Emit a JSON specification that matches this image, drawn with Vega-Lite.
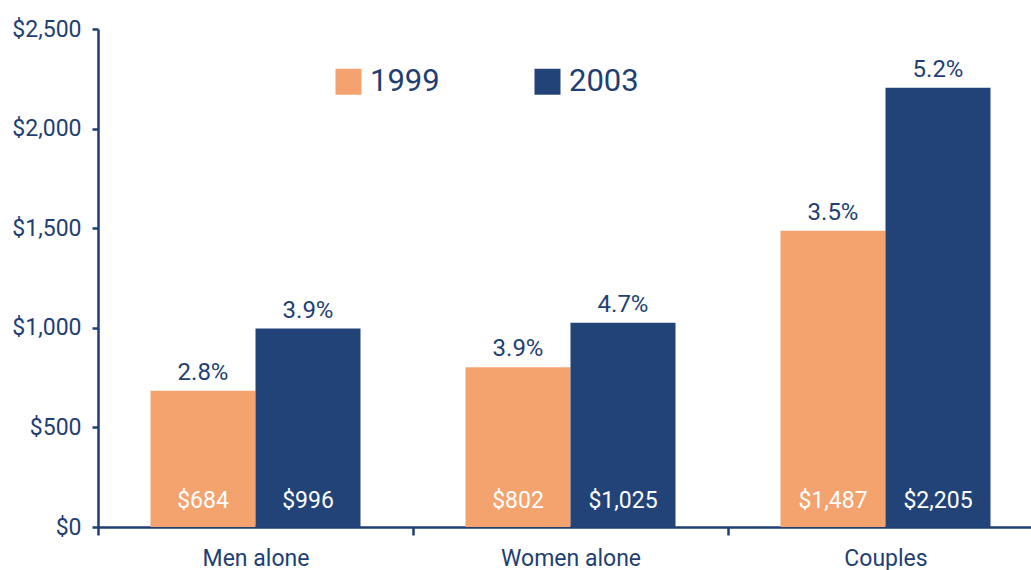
{
  "$schema": "https://vega.github.io/schema/vega-lite/v6.json",
  "width": 933,
  "height": 498,
  "autosize": {"type": "none"},
  "padding": {"left": 98, "top": 29, "right": 0, "bottom": 43},
  "background": "white",
  "config": {
    "view": {"stroke": null},
    "font": "Roboto",
    "axis": {"labelFont": "Roboto", "labelColor": "#1F3F73", "domainColor": "#1F3F73", "tickColor": "#1F3F73", "grid": false, "title": null},
    "legend": {"labelFont": "Roboto"}
  },
  "data": {"values": [
    {"group": "Men alone", "year": "1999", "value": 684, "pct": "2.8%"},
    {"group": "Men alone", "year": "2003", "value": 996, "pct": "3.9%"},
    {"group": "Women alone", "year": "1999", "value": 802, "pct": "3.9%"},
    {"group": "Women alone", "year": "2003", "value": 1025, "pct": "4.7%"},
    {"group": "Couples", "year": "1999", "value": 1487, "pct": "3.5%"},
    {"group": "Couples", "year": "2003", "value": 2205, "pct": "5.2%"}
  ]},
  "encoding": {
    "x": {"field": "group", "type": "nominal", "sort": ["Men alone", "Women alone", "Couples"],
      "scale": {"paddingInner": 0, "paddingOuter": 0, "range": [0, 945]},
      "axis": {"labelAngle": 0, "labelFontSize": 23, "domainWidth": 2.5, "tickWidth": 2.5, "tickSize": 8, "tickBand": "extent", "labelPadding": 12}},
    "xOffset": {"field": "year", "type": "nominal", "scale": {"paddingInner": 0, "paddingOuter": 0.5}}
  },
  "layer": [
    {
      "mark": {"type": "bar"},
      "encoding": {
        "y": {"field": "value", "type": "quantitative", "scale": {"domain": [0, 2500], "nice": false},
          "axis": {"values": [0, 500, 1000, 1500, 2000, 2500], "format": "$,.0f", "labelFontSize": 23, "domainWidth": 2.5, "tickWidth": 2.5, "tickSize": 6, "labelPadding": 11}},
        "color": {"field": "year", "type": "nominal",
          "scale": {"domain": ["1999", "2003"], "range": ["#F4A36E", "#224377"]},
          "legend": {"title": null, "orient": "none", "legendX": 235, "legendY": 37, "direction": "horizontal",
            "symbolType": "square", "symbolSize": 676, "symbolStrokeWidth": 0, "symbolOpacity": 1,
            "labelFontSize": 31, "labelColor": "#1F3F73", "labelOffset": 6, "columnPadding": 92, "padding": 0}}
      }
    },
    {
      "mark": {"type": "text", "baseline": "bottom", "dy": -6, "fontSize": 24, "color": "#1F3F73"},
      "encoding": {
        "y": {"field": "value", "type": "quantitative", "scale": {"domain": [0, 2500], "nice": false}},
        "text": {"field": "pct"}
      }
    },
    {
      "mark": {"type": "text", "baseline": "middle", "dy": -26, "fontSize": 23, "color": "white"},
      "encoding": {
        "y": {"datum": 0, "scale": {"domain": [0, 2500], "nice": false}},
        "text": {"field": "value", "type": "quantitative", "format": "$,.0f"}
      }
    }
  ]
}
